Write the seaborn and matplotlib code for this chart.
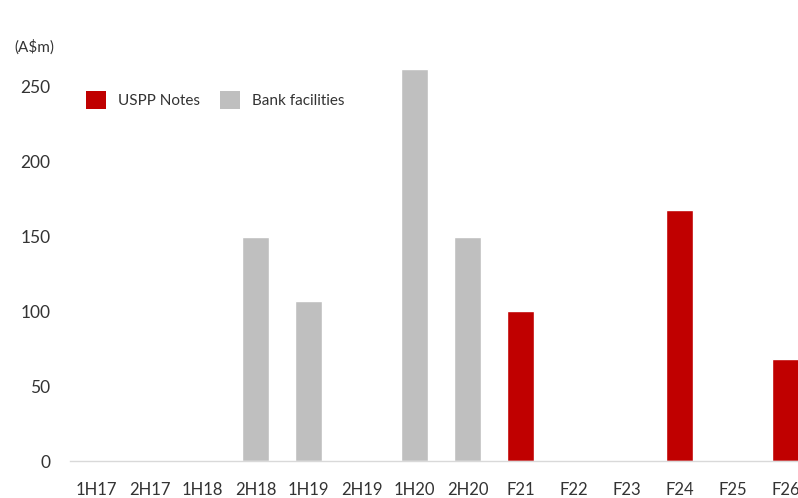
import matplotlib
matplotlib.use("Agg")
import matplotlib.pyplot as plt
import seaborn as sns
import pandas as pd
from matplotlib.patches import Patch

periods = ["1H17", "2H17", "1H18", "2H18", "1H19", "2H19", "1H20",
           "2H20", "F21", "F22", "F23", "F24", "F25", "F26"]
uspp_notes = [0, 0, 0, 0, 0, 0, 0, 0, 100, 0, 0, 168, 0, 68]
bank_facilities = [0, 0, 0, 150, 107, 0, 262, 150, 0, 0, 0, 0, 0, 0]
series_names = ["USPP Notes", "Bank facilities"]
colors = {"USPP Notes": "#C00000", "Bank facilities": "#BFBFBF"}

rows = []
for p, u, b in zip(periods, uspp_notes, bank_facilities):
    if u:
        rows.append({"period": p, "value": u, "type": "USPP Notes"})
    if b:
        rows.append({"period": p, "value": b, "type": "Bank facilities"})
df = pd.DataFrame(rows)

sns.set_theme(style="white")
plt.rcParams["font.family"] = ["Lato", "DejaVu Sans"]

W, H = 798, 498
fig = plt.figure(figsize=(W / 100, H / 100), dpi=100)
ax_left, ax_bottom = 70, 461
px_per_cat = 53.0
ax_w = px_per_cat * len(periods)
ax_h = 300 * 1.496
ax = fig.add_axes([ax_left / W, (H - ax_bottom) / H, ax_w / W, ax_h / H])

sns.barplot(data=df, x="period", y="value", hue="type", order=periods,
            hue_order=series_names, palette=colors, dodge=False, width=0.5,
            saturation=1, ax=ax, legend=False)

ax.set_xlim(-0.5, len(periods) - 0.5)
ax.set_ylim(0, 300)
ax.set_yticks([0, 50, 100, 150, 200, 250])
ax.set_xlabel("")
ax.set_ylabel("")
for s in ["top", "right", "left"]:
    ax.spines[s].set_visible(False)
ax.spines["bottom"].set_color("#D9D9D9")
ax.spines["bottom"].set_linewidth(1.0)
ax.tick_params(axis="both", length=0, labelsize=12, colors="#333333")
ax.tick_params(axis="y", labelsize=12.5, pad=14)
ax.tick_params(axis="x", pad=15)

fig.text(14 / W, 1 - 47 / H, "(A$m)", fontsize=11, color="#333333",
         va="center", ha="left")

handles = [Patch(facecolor=colors[n], edgecolor="none", label=n) for n in series_names]
leg = ax.legend(handles=handles, ncol=2, frameon=False, loc="center left",
                bbox_to_anchor=((80 - ax_left) / ax_w, (ax_bottom - 100) / ax_h),
                bbox_transform=ax.transAxes, fontsize=11, handlelength=1.3,
                handleheight=1.4, handletextpad=0.8, columnspacing=1.3,
                borderaxespad=0)
for t in leg.get_texts():
    t.set_color("#333333")

fig.savefig("out.png", dpi=100)
